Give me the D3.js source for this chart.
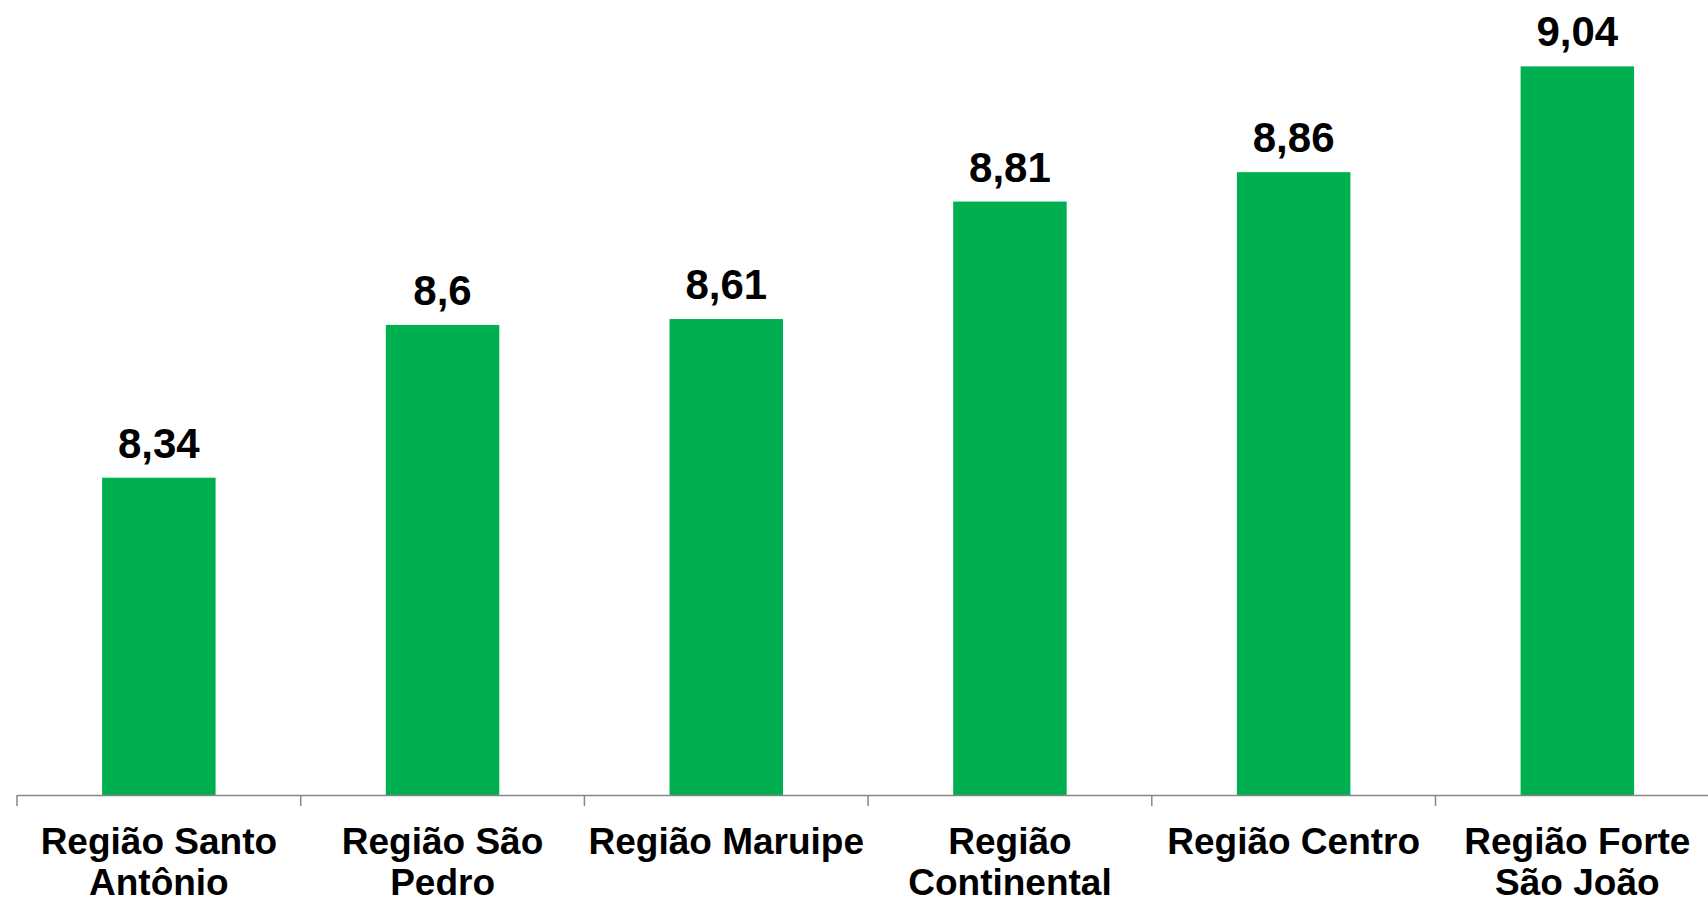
<!DOCTYPE html>
<html>
<head>
<meta charset="utf-8">
<script src="https://cdn.jsdelivr.net/npm/d3@7"></script>
<style>
  body { margin: 0; background: #fff; }
  svg { display: block; }
  text { font-family: "Liberation Sans", Arial, sans-serif; font-weight: bold; fill: #000; }
</style>
</head>
<body>
<div id="chart"></div>
<script>
var regions = [
  ["Região Santo", "Antônio"],
  ["Região São", "Pedro"],
  ["Região Maruipe"],
  ["Região", "Continental"],
  ["Região Centro"],
  ["Região Forte", "São João"]
];
var values = [8.34, 8.6, 8.61, 8.81, 8.86, 9.04];
var valueLabels = ["8,34", "8,6", "8,61", "8,81", "8,86", "9,04"];

var svgWidth = 1708;
var svgHeight = 900;

var margin = { top: 0, left: 17, bottom: 105 };
var bandWidth = 283.7;
var height = svgHeight - margin.top - margin.bottom;

var svg = d3.select("#chart")
  .append("svg")
  .attr("width", svgWidth)
  .attr("height", svgHeight);

var chartGroup = svg.append("g")
  .attr("transform", `translate(${margin.left}, ${margin.top})`);

var idx = d3.range(values.length);

// x scale - last band runs past the right edge, like the original
var xScale = d3.scaleBand()
  .domain(idx)
  .range([0, bandWidth * idx.length])
  .paddingInner(0.6)
  .paddingOuter(0.3);

var yScale = d3.scaleLinear()
  .domain([7.8, 9.153])
  .range([height, 0]);

// bars
chartGroup.selectAll(".bar")
  .data(idx)
  .enter()
  .append("rect")
  .attr("class", "bar")
  .attr("x", i => xScale(i))
  .attr("width", xScale.bandwidth())
  .attr("y", i => yScale(values[i]))
  .attr("height", i => height - yScale(values[i]))
  .attr("fill", "#00B050");

// value labels
chartGroup.selectAll(".vlabel")
  .data(idx)
  .enter()
  .append("text")
  .attr("class", "vlabel")
  .attr("x", i => xScale(i) + xScale.bandwidth() / 2)
  .attr("y", i => yScale(values[i]) - 20)
  .attr("text-anchor", "middle")
  .attr("font-size", "42px")
  .text(i => valueLabels[i]);

// x axis line and ticks between categories
var axis = chartGroup.append("g")
  .attr("transform", `translate(0, ${height})`);

axis.append("line")
  .attr("x1", 0)
  .attr("x2", svgWidth)
  .attr("y1", 0.5)
  .attr("y2", 0.5)
  .attr("stroke", "#868686")
  .attr("stroke-width", 1.5);

axis.selectAll(".tick")
  .data(d3.range(idx.length + 1))
  .enter()
  .append("line")
  .attr("class", "tick")
  .attr("x1", k => k * bandWidth)
  .attr("x2", k => k * bandWidth)
  .attr("y1", 0)
  .attr("y2", 11)
  .attr("stroke", "#868686")
  .attr("stroke-width", 1.5);

// category labels (1 or 2 lines)
var catLabels = axis.selectAll(".cat")
  .data(idx)
  .enter()
  .append("text")
  .attr("class", "cat")
  .attr("text-anchor", "middle")
  .attr("font-size", "37px")
  .attr("transform", i => `translate(${xScale(i) + xScale.bandwidth() / 2}, 59)`);

catLabels.selectAll("tspan")
  .data(i => regions[i])
  .enter()
  .append("tspan")
  .attr("x", 0)
  .attr("y", (d, j) => j * 41)
  .text(d => d);
</script>
</body>
</html>
